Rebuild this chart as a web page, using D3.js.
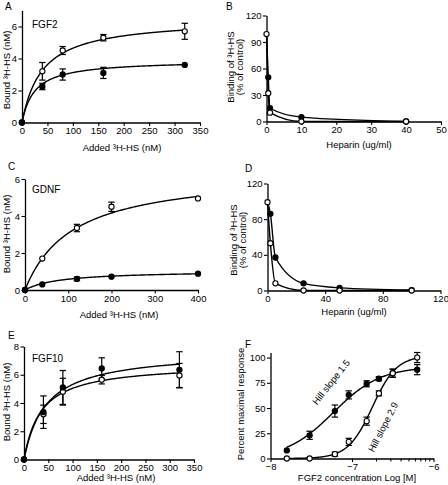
<!DOCTYPE html>
<html><head><meta charset="utf-8">
<script src="https://cdn.jsdelivr.net/npm/d3@7"></script>
<style>
body{margin:0;background:#fff}
svg text{font-family:"Liberation Sans",Arial,Helvetica,sans-serif;fill:#000}
</style></head><body>
<svg id="c" width="448" height="485"></svg>
<script>
// ---------- Panel A: FGF2 ----------
const addedA = [0, 40, 80, 160, 320];
const fgf2Open = [0, 3.2, 4.5, 5.3, 5.7];
const fgf2OpenErr = [0, 0.55, 0.25, 0.2, 0.5];
const fgf2Filled = [0, 2.25, 3.0, 3.1, 3.6];
const fgf2FilledErr = [0, 0.2, 0.35, 0.35, 0];
const fgf2FitOpen = [6.5, 40];     // Bmax, Kd
const fgf2FitFilled = [3.9, 25];
const ticksAx = [0, 50, 100, 150, 200, 250, 300, 350];
const ticksAy = [0, 2, 4, 6];
// ---------- Panel B ----------
const heparinB = [0, 0.5, 1, 10, 40];
const bOpen = [99, 32, 10, 0, 0];
const bFilled = [100, 50, 15, 5, 0];
const ticksBx = [0, 10, 20, 30, 40, 50];
const ticksBy = [0, 30, 60, 90, 120];
// ---------- Panel C: GDNF ----------
const addedC = [0, 40, 120, 200, 400];
const gdnfOpen = [0, 1.7, 3.35, 4.5, 4.95];
const gdnfOpenErr = [0, 0, 0.2, 0.25, 0];
const gdnfFilled = [0, 0.3, 0.6, 0.72, 0.88];
const gdnfFilledErr = [0, 0, 0.1, 0, 0];
const gdnfFitOpen = [6.45, 110];
const gdnfFitFilled = [1.05, 80];
const ticksCx = [0, 100, 200, 300, 400];
const ticksCy = [0, 2, 4, 6];
// ---------- Panel D ----------
const heparinD = [0, 2, 5.5, 25, 50, 100];
const dOpen = [99, 53, 8, 0, 0, 0];
const dFilled = [100, 86, 37, 8, 3, 0.5];
const ticksDx = [0, 40, 80, 120];
const ticksDy = [0, 40, 80, 120];
// ---------- Panel E: FGF10 ----------
const addedE = [0, 40, 80, 160, 320];
const fgf10Open = [0, 3.2, 4.8, 5.65, 5.95];
const fgf10OpenErr = [0, 0.65, 0.95, 0.3, 0.85];
const fgf10Filled = [0, 3.35, 5.1, 6.45, 6.35];
const fgf10FilledErr = [0, 1.15, 1.2, 0.75, 1.28];
const fgf10FitOpen = [6.8, 35];
const fgf10FitFilled = [7.7, 45];
const ticksEx = [0, 50, 100, 150, 200, 250, 300, 350];
const ticksEy = [0, 2, 4, 6, 8];
// ---------- Panel F ----------
const logConc = [-7.8, -7.52, -7.21, -7.04, -6.82, -6.67, -6.5, -6.2];
const fOpen = [0, 0, 4.3, 16.5, 37, 64.5, 84.5, 100];
const fOpenErr = [0, 0, 2, 3.5, 4, 2.5, 4, 5];
const fFilled = [8, 23, 47, 63, 74, 79, 84.5, 88];
const fFilledErr = [0, 4, 6, 4, 3, 2, 4, 5];
const hillFilled = [0, 91, -7.23, 1.5];   // bottom, top, logEC50, slope
const hillOpen = [0, 102, -6.75, 2.9];
const ticksFx = [-8, -7, -6];
const ticksFxMinor = [2, 3, 4, 5, 6, 7, 8, 9];
const ticksFy = [0, 25, 50, 75, 100];

const svg = d3.select("#c");
const FS = 9.5;

function hyper(p) { return v => p[0] * v / (p[1] + v); }
function hill(p) { return v => p[0] + (p[1] - p[0]) / (1 + Math.pow(10, (p[2] - v) * p[3])); }

function makeAxes(o) {
  const x = d3.scaleLinear().domain(o.xDom).range(o.xR);
  const y = d3.scaleLinear().domain(o.yDom).range(o.yR);
  const g = svg.append("g");
  const ax = g.append("g").attr("transform", `translate(0,${o.yR[0]})`)
    .call(d3.axisBottom(x).tickValues(o.xt).tickSize(3.5).tickSizeOuter(0).tickPadding(1.5).tickFormat(o.xf || d3.format("d")));
  const ay = g.append("g").attr("transform", `translate(${o.xR[0]},0)`)
    .call(d3.axisLeft(y).tickValues(o.yt).tickSize(3.5).tickSizeOuter(0).tickPadding(1.5).tickFormat(d3.format("d")));
  [ax, ay].forEach(a => {
    a.select(".domain").attr("stroke", "#000").attr("stroke-width", 1.3);
    a.selectAll(".tick line").attr("stroke", "#000").attr("stroke-width", 1.1);
    a.selectAll(".tick text").attr("font-size", FS).attr("font-family", "Liberation Sans, Arial, sans-serif").attr("fill", "#000");
  });
  return { g, x, y };
}

function curve(P, f, x0, x1) {
  const pts = d3.range(0, 201).map(i => x0 + (x1 - x0) * i / 200);
  P.g.append("path").attr("fill", "none").attr("stroke", "#000").attr("stroke-width", 1.4)
    .attr("d", d3.line().x(v => P.x(v)).y(v => P.y(f(v)))(pts));
}

function smooth(P, xs, ys) {
  P.g.append("path").attr("fill", "none").attr("stroke", "#000").attr("stroke-width", 1.4)
    .attr("d", d3.line().curve(d3.curveMonotoneX).x((d, i) => P.x(xs[i])).y(d => P.y(d))(ys));
}

function errbars(P, xs, ys, es) {
  xs.forEach((xv, i) => {
    const e = es[i];
    if (!e) return;
    const cx = P.x(xv), y1 = P.y(ys[i] + e), y2 = P.y(ys[i] - e);
    P.g.append("line").attr("x1", cx).attr("x2", cx).attr("y1", y1).attr("y2", y2).attr("stroke", "#000").attr("stroke-width", 1.2);
    [y1, y2].forEach(yy => P.g.append("line").attr("x1", cx - 3.2).attr("x2", cx + 3.2).attr("y1", yy).attr("y2", yy).attr("stroke", "#000").attr("stroke-width", 1.2));
  });
}

function dots(P, xs, ys, open) {
  P.g.append("g").selectAll("circle").data(ys).join("circle")
    .attr("cx", (d, i) => P.x(xs[i])).attr("cy", d => P.y(d)).attr("r", 2.6)
    .attr("fill", open ? "#fff" : "#000").attr("stroke", "#000").attr("stroke-width", 1.1);
}

function txt(x, y, s, opt = {}) {
  const t = svg.append("text").attr("x", x).attr("y", y).attr("font-size", opt.fs || FS)
    .attr("text-anchor", opt.anchor || "start").text(s);
  if (opt.rot != null) t.attr("transform", `rotate(${opt.rot},${x},${y})`);
  if (opt.mid) t.attr("dominant-baseline", "central");
  return t;
}

// ===== Panel A =====
{
  const P = makeAxes({ xDom: [0, 350], xR: [22, 200], yDom: [0, 7], yR: [122.5, 10.5], xt: ticksAx, yt: ticksAy });
  curve(P, hyper(fgf2FitOpen), 0, 320);
  curve(P, hyper(fgf2FitFilled), 0, 320);
  errbars(P, addedA, fgf2Open, fgf2OpenErr);
  errbars(P, addedA, fgf2Filled, fgf2FilledErr);
  dots(P, addedA, fgf2Open, true);
  dots(P, addedA, fgf2Filled, false);
  txt(5, 10, "A", { fs: 10 });
  txt(32, 28, "FGF2", { fs: 10 });
  txt(122, 151, "Added ³H-HS (nM)", { anchor: "middle" });
  txt(10, 70, "Bound ³H-HS (nM)", { anchor: "middle", rot: -90 });
}
// ===== Panel B =====
{
  const P = makeAxes({ xDom: [0, 50], xR: [266.5, 441], yDom: [0, 120], yR: [121.5, 15.5], xt: ticksBx, yt: ticksBy });
  smooth(P, heparinB, bFilled);
  smooth(P, heparinB, bOpen);
  dots(P, heparinB.slice(1), bFilled.slice(1), false);
  dots(P, heparinB, bOpen, true);
  txt(226, 10, "B", { fs: 10 });
  txt(359, 148, "Heparin (ug/ml)", { anchor: "middle" });
  txt(234, 67, "Binding of ³H-HS", { anchor: "middle", rot: -90 });
  txt(243, 67, "(% of control)", { anchor: "middle", rot: -90 });
}
// ===== Panel C =====
{
  const P = makeAxes({ xDom: [0, 400], xR: [25, 198], yDom: [0, 6], yR: [290, 179], xt: ticksCx, yt: ticksCy });
  curve(P, hyper(gdnfFitOpen), 0, 400);
  curve(P, hyper(gdnfFitFilled), 0, 400);
  errbars(P, addedC, gdnfOpen, gdnfOpenErr);
  errbars(P, addedC, gdnfFilled, gdnfFilledErr);
  dots(P, addedC, gdnfOpen, true);
  dots(P, addedC, gdnfFilled, false);
  txt(8, 170, "C", { fs: 10 });
  txt(32, 193, "GDNF", { fs: 10 });
  txt(119, 318, "Added ³H-HS (nM)", { anchor: "middle" });
  txt(10, 234, "Bound ³H-HS (nM)", { anchor: "middle", rot: -90 });
}
// ===== Panel D =====
{
  const P = makeAxes({ xDom: [0, 120], xR: [267.5, 440.5], yDom: [0, 120], yR: [290.5, 183.5], xt: ticksDx, yt: ticksDy });
  smooth(P, heparinD, dFilled);
  smooth(P, heparinD, dOpen);
  dots(P, heparinD.slice(1), dFilled.slice(1), false);
  dots(P, heparinD, dOpen, true);
  txt(245, 172, "D", { fs: 10 });
  txt(354, 315, "Heparin (ug/ml)", { anchor: "middle" });
  txt(237, 240, "Binding of ³H-HS", { anchor: "middle", rot: -90 });
  txt(246, 240, "(% of control)", { anchor: "middle", rot: -90 });
}
// ===== Panel E =====
{
  const P = makeAxes({ xDom: [0, 350], xR: [24, 194], yDom: [0, 8], yR: [459.5, 346.5], xt: ticksEx, yt: ticksEy });
  curve(P, hyper(fgf10FitFilled), 0, 320);
  curve(P, hyper(fgf10FitOpen), 0, 320);
  errbars(P, addedE, fgf10Open, fgf10OpenErr);
  errbars(P, addedE, fgf10Filled, fgf10FilledErr);
  dots(P, addedE, fgf10Open, true);
  dots(P, addedE, fgf10Filled, false);
  txt(8, 339, "E", { fs: 10 });
  txt(32, 362, "FGF10", { fs: 10 });
  txt(116, 481, "Added ³H-HS (nM)", { anchor: "middle" });
  txt(10, 402, "Bound ³H-HS (nM)", { anchor: "middle", rot: -90 });
}
// ===== Panel F =====
{
  const P = makeAxes({ xDom: [-8, -6], xR: [270.5, 433.5], yDom: [0, 105], yR: [458.5, 352.5], xt: ticksFx, yt: ticksFy });
  // minor log ticks in the -7..-6 decade
  P.g.append("g").selectAll("line").data(ticksFxMinor).join("line")
    .attr("x1", k => P.x(-7 + Math.log10(k))).attr("x2", k => P.x(-7 + Math.log10(k)))
    .attr("y1", 458.5).attr("y2", 461.5).attr("stroke", "#000").attr("stroke-width", 1);
  curve(P, hill(hillFilled), -7.8, -6.2);
  curve(P, hill(hillOpen), -7.8, -6.2);
  errbars(P, logConc, fOpen, fOpenErr);
  errbars(P, logConc, fFilled, fFilledErr);
  dots(P, logConc, fFilled, false);
  dots(P, logConc, fOpen, true);
  txt(245, 348, "F", { fs: 10 });
  txt(357, 481, "FGF2 concentration Log [M]", { anchor: "middle" });
  txt(244, 404, "Percent maximal response", { anchor: "middle", rot: -90 });
  txt(331, 382, "Hill slope 1.5", { anchor: "middle", rot: -52, mid: true });
  txt(383, 427, "Hill slope 2.9", { anchor: "middle", rot: -63, mid: true });
}
</script></body></html>
